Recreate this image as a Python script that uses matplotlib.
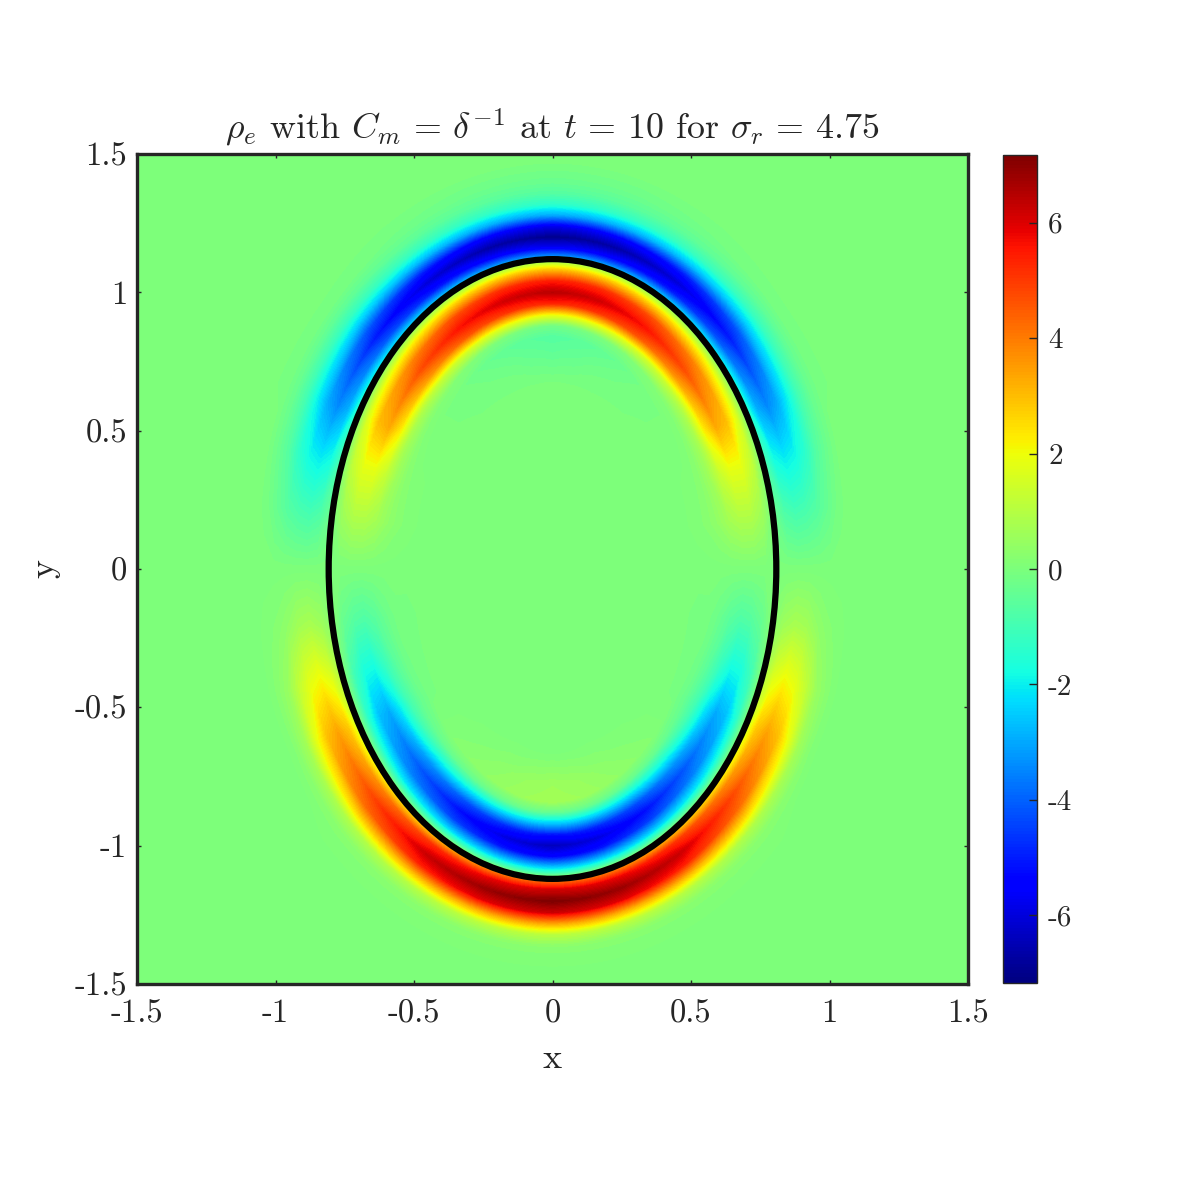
import numpy as np
import matplotlib
matplotlib.use('Agg')
import matplotlib.pyplot as plt
from matplotlib.patches import Ellipse
from matplotlib.colors import Normalize
from matplotlib.cm import ScalarMappable
from matplotlib.path import Path
from matplotlib.transforms import Transform

# ellipse parameter (deg) and normal offset from the interface
phi_deg = [90, 75, 60, 45, 30, 20, 10, 0, -10, -20, -30, -45, -60, -75, -90]
offset = [-0.46, -0.34, -0.28, -0.24, -0.20, -0.16, -0.12, -0.08, -0.04, -0.01,
          0.01, 0.04, 0.08, 0.12, 0.16, 0.20, 0.24, 0.28, 0.36]

# rho_e, one row per phi
rho_p90 = [0, -0.5, -0.7, -0.2, 2.0, 5.3, 6.4, 5.4, 3.0, 0.8, -3.4, -5.6, -7.0, -5.8, -3.0, -1.4, -0.7, -0.35, 0]
rho_p75 = [0, -0.4, -0.6, -0.1, 2.0, 5.1, 6.1, 5.2, 2.8, 0.7, -3.2, -5.4, -6.7, -5.5, -2.9, -1.3, -0.6, -0.3, 0]
rho_p60 = [0, -0.2, -0.4, 0.0, 1.7, 4.6, 5.6, 4.7, 2.5, 0.5, -2.8, -5.0, -6.1, -5.0, -2.7, -1.2, -0.5, -0.2, 0]
rho_p45 = [0, -0.1, -0.1, 0.2, 1.3, 3.6, 4.7, 3.9, 2.1, 0.4, -2.3, -4.1, -5.1, -4.2, -2.5, -1.2, -0.5, -0.1, 0]
rho_p30 = [0, 0, 0, 0.2, 0.8, 2.3, 3.3, 3.0, 1.7, 0.3, -1.6, -2.9, -3.5, -3.0, -2.0, -1.0, -0.4, -0.1, 0]
rho_p20 = [0, 0, 0.1, 0.2, 0.6, 1.3, 1.8, 1.8, 1.2, 0.2, -1.0, -1.8, -2.1, -1.9, -1.4, -0.7, -0.3, 0, 0]
rho_p10 = [0, 0, 0.1, 0.2, 0.4, 0.7, 0.9, 0.9, 0.6, 0.1, -0.4, -0.8, -1.0, -0.9, -0.7, -0.4, -0.1, 0, 0]
rho_000 = [0, 0, 0, 0, 0, 0, 0, 0, 0, 0, 0, 0, 0, 0, 0, 0, 0, 0, 0]
rho_m10 = [0, 0, -0.1, -0.1, -0.3, -0.6, -0.8, -0.7, -0.4, 0, 0.3, 0.6, 0.8, 0.7, 0.4, 0.2, 0.1, 0, 0]
rho_m20 = [0, 0, -0.1, -0.2, -0.6, -1.2, -1.8, -1.7, -1.0, -0.1, 1.0, 1.7, 2.1, 1.8, 1.2, 0.5, 0.2, 0, 0]
rho_m30 = [0, 0, -0.1, -0.4, -1.0, -2.1, -3.0, -2.7, -1.5, -0.2, 1.6, 2.8, 3.4, 3.0, 1.9, 0.7, 0.2, 0, 0]
rho_m45 = [0, 0.1, 0.2, -0.4, -1.7, -3.3, -4.2, -3.6, -2.0, -0.3, 2.3, 4.0, 4.9, 4.3, 2.6, 0.9, 0.3, 0.1, 0]
rho_m60 = [0, 0.3, 0.4, -0.4, -2.2, -4.3, -5.3, -4.5, -2.3, -0.3, 3.0, 5.2, 6.2, 5.4, 3.0, 1.0, 0.3, 0.1, 0]
rho_m75 = [0, 0.5, 0.6, -0.4, -2.5, -4.9, -6.0, -5.1, -2.4, -0.3, 3.8, 5.8, 6.8, 5.9, 3.2, 1.1, 0.3, 0.1, 0]
rho_m90 = [0, 0.6, 0.7, -0.5, -2.7, -5.2, -6.4, -5.4, -2.5, -0.3, 4.3, 6.1, 7.15, 6.2, 3.4, 1.1, 0.3, 0.1, 0]

# interface semi axes and colour limit
semi_x = 0.808
semi_y = 1.12
clim = 7.17

ticks = [-1.5, -1, -0.5, 0, 0.5, 1, 1.5]
tick_labels = ['-1.5', '-1', '-0.5', '0', '0.5', '1', '1.5']
cbar_ticks = [-6, -4, -2, 0, 2, 4, 6]
cbar_labels = ['-6', '-4', '-2', '0', '2', '4', '6']


class InterfaceCoords(Transform):
    # (phi in degrees, normal offset) -> (x, y), so the bands follow the ellipse
    input_dims = 2
    output_dims = 2

    def transform_non_affine(self, values):
        values = np.asarray(values)
        p = np.radians(values[:, 0])
        d = values[:, 1]
        nx = semi_y * np.cos(p)
        ny = semi_x * np.sin(p)
        nn = np.hypot(nx, ny)
        return np.column_stack([semi_x * np.cos(p) + d * nx / nn,
                                semi_y * np.sin(p) + d * ny / nn])

    def transform_path_non_affine(self, path):
        ipath = path.interpolated(6)
        return Path(self.transform_non_affine(ipath.vertices), ipath.codes)


plt.rcParams['font.family'] = 'cmr10'
plt.rcParams['mathtext.fontset'] = 'cm'
plt.rcParams['axes.unicode_minus'] = False
text_col = '#262626'

rho_right = np.array([rho_p90, rho_p75, rho_p60, rho_p45, rho_p30, rho_p20, rho_p10, rho_000,
                      rho_m10, rho_m20, rho_m30, rho_m45, rho_m60, rho_m75, rho_m90])
phi_right = np.array(phi_deg, dtype=float)

# left half mirrors the right half
phi_all = np.concatenate([phi_right[::-1], 180 - phi_right[1:]])
rho_all = np.vstack([rho_right[::-1], rho_right[1:]])

W = 1181
fig = plt.figure(figsize=(W / 100, W / 100), dpi=100)
ax = fig.add_axes([137 / W, 1 - 984 / W, (968 - 137) / W, (984 - 154) / W])
norm = Normalize(-clim, clim)
cmap = plt.get_cmap('jet')
ax.set_facecolor(cmap(norm(0)))
# odd number of intervals keeps 0 in the middle of one band
ax.contourf(phi_all, np.array(offset), rho_all.T, levels=np.linspace(-clim, clim, 130), cmap=cmap, norm=norm,
            transform=InterfaceCoords() + ax.transData)
ax.add_patch(Ellipse((0, 0), 2 * semi_x, 2 * semi_y, fill=False, ec='black', lw=4.5, zorder=5))

ax.set_xlim(-1.5, 1.5)
ax.set_ylim(-1.5, 1.5)
ax.set_xticks(ticks)
ax.set_xticklabels(tick_labels)
ax.set_yticks(ticks)
ax.set_yticklabels(tick_labels)
ax.tick_params(direction='in', length=3, width=1, top=True, right=True, color=text_col,
               labelcolor=text_col, labelsize=23.5, pad=7)
ax.tick_params(axis='x', pad=11)
for s in ax.spines.values():
    s.set_linewidth(2.4)
    s.set_color(text_col)
    s.set_zorder(6)
ax.set_xlabel('x', fontsize=26, color=text_col, labelpad=11)
ax.set_ylabel('y', fontsize=26, color=text_col, labelpad=10)
ax.set_title(r'$\rho_e$ with $C_m\,=\,\delta^{-1}$ at $t\,=\,10$ for $\sigma_r\,=\,4.75$',
             fontsize=25.9, color=text_col, pad=11)

cax = fig.add_axes([1003 / W, 1 - 983 / W, 34 / W, 828 / W])
cb = fig.colorbar(ScalarMappable(norm=norm, cmap=cmap), cax=cax)
cb.set_ticks(cbar_ticks)
cb.set_ticklabels(cbar_labels)
cax.tick_params(direction='in', length=6, width=1, color=text_col, labelcolor=text_col, labelsize=21, pad=8)
cb.outline.set_linewidth(1)
cb.outline.set_edgecolor(text_col)

fig.savefig('out.png', dpi=100)
